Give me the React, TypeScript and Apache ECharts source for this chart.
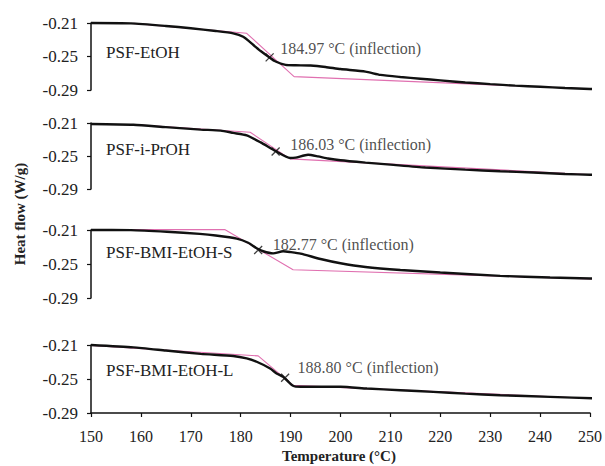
import React, { useEffect, useRef } from 'react';
import * as echarts from 'echarts';

const panelNames = ['PSF-EtOH', 'PSF-i-PrOH', 'PSF-BMI-EtOH-S', 'PSF-BMI-EtOH-L'];
const inflectionLabels = [
  '184.97 °C (inflection)',
  '186.03 °C (inflection)',
  '182.77 °C (inflection)',
  '188.80 °C (inflection)',
];

// PSF-EtOH
const etohTemp = [150, 158, 165, 170, 175, 178.5, 180.5, 182.5, 184, 185.5, 187, 189, 191, 194, 197, 200, 205, 208, 212, 216, 220, 225, 230, 235, 240, 245, 250, 253];
const etohFlow = [-0.21, -0.2104, -0.2135, -0.2163, -0.2195, -0.2223, -0.2265, -0.236, -0.2435, -0.25, -0.256, -0.26, -0.2605, -0.2608, -0.2625, -0.265, -0.268, -0.272, -0.2745, -0.2765, -0.2785, -0.281, -0.283, -0.2848, -0.2862, -0.2876, -0.2888, -0.2895];
const etohTanTemp = [158.5, 181.2, 190.7, 253];
const etohTanFlow = [-0.2104, -0.2223, -0.274, -0.2895];
const etohMark = [185.8, -0.251];

// PSF-i-PrOH
const iproTemp = [150, 158.5, 165, 172, 176, 178.5, 181.2, 184, 187, 189.9, 191, 193.5, 195.5, 197.5, 200, 205, 210, 217, 225, 232, 238.6, 245, 250, 253];
const iproFlow = [-0.2112, -0.2121, -0.215, -0.218, -0.2192, -0.222, -0.225, -0.2335, -0.244, -0.2525, -0.252, -0.2485, -0.2505, -0.253, -0.2552, -0.258, -0.2605, -0.264, -0.2665, -0.2685, -0.27, -0.2718, -0.2727, -0.2728];
const iproTanTemp = [159.8, 181.9, 189.9, 253];
const iproTanFlow = [-0.2125, -0.2212, -0.2535, -0.2735];
const iproMark = [187, -0.2445];

// PSF-BMI-EtOH-S
const bmisTemp = [150, 158, 165.2, 171.8, 175, 179.2, 181.5, 183.2, 184.5, 186.5, 188.5, 190, 192, 196, 200, 205, 212, 220, 232, 242, 250, 253];
const bmisFlow = [-0.21, -0.2101, -0.212, -0.2146, -0.2165, -0.2201, -0.225, -0.2315, -0.235, -0.2375, -0.235, -0.236, -0.2378, -0.2441, -0.2491, -0.2535, -0.2571, -0.26, -0.264, -0.2659, -0.267, -0.2675];
const bmisTanTemp = [150, 176.8, 190.5, 253];
const bmisTanFlow = [-0.2095, -0.2095, -0.2568, -0.268];
const bmisMark = [183.5, -0.2336];

// PSF-BMI-EtOH-L
const bmilTemp = [150, 158.5, 165, 172, 178.5, 181.2, 183.2, 185.9, 187.2, 188.5, 190.5, 192, 200, 205.3, 212, 218.6, 225, 232, 242, 251.4];
const bmilFlow = [-0.21, -0.2128, -0.2165, -0.2205, -0.223, -0.2258, -0.2297, -0.2376, -0.2435, -0.2475, -0.258, -0.2592, -0.2592, -0.2612, -0.2632, -0.2651, -0.2672, -0.2691, -0.271, -0.2729];
const bmilTanTemp = [150, 183.5, 190.5, 251.4];
const bmilTanFlow = [-0.2105, -0.2228, -0.2575, -0.2732];
const bmilMark = [188.9, -0.2486];

const curves = [
  [etohTemp, etohFlow], [iproTemp, iproFlow], [bmisTemp, bmisFlow], [bmilTemp, bmilFlow],
];
const tangents = [
  [etohTanTemp, etohTanFlow], [iproTanTemp, iproTanFlow], [bmisTanTemp, bmisTanFlow], [bmilTanTemp, bmilTanFlow],
];
const marks = [etohMark, iproMark, bmisMark, bmilMark];

const FONT = '"Liberation Serif", "Times New Roman", serif';
const gridTops = [23, 123, 230, 345];
const gridHeights = [67, 66, 68, 68];
const nameYs = [52, 149, 252, 370];
const labelOffsets = [[-1, -9], [3, -7], [3, -6], [1, -10]];

const zip = (xs: number[], ys: number[]) => xs.map((x, i) => [x, ys[i]]);

export default function App() {
  const ref = useRef<HTMLDivElement>(null);
  useEffect(() => {
    if (!ref.current) return;
    const chart = echarts.init(ref.current, undefined, { renderer: 'svg' });
    const grid: any[] = [];
    const xAxis: any[] = [];
    const yAxis: any[] = [];
    const series: any[] = [];
    for (let i = 0; i < 4; i++) {
      grid.push({ left: 91, right: 15, top: gridTops[i], height: gridHeights[i] });
      xAxis.push({
        gridIndex: i,
        type: 'value',
        min: 150,
        max: 250,
        interval: 10,
        show: i === 3,
        splitLine: { show: false },
        axisLine: { lineStyle: { color: '#111', width: 1.5 } },
        axisTick: { length: 4, lineStyle: { color: '#111', width: 1.2 } },
        axisLabel: { fontFamily: FONT, fontSize: 16, color: '#222', margin: 15 },
      });
      yAxis.push({
        gridIndex: i,
        type: 'value',
        min: -0.29,
        max: -0.21,
        interval: 0.04,
        splitLine: { show: false },
        axisLine: { show: true, lineStyle: { color: '#111', width: 1.5 } },
        axisTick: { show: true, length: 4, lineStyle: { color: '#111', width: 1.2 } },
        axisLabel: {
          fontFamily: FONT,
          fontSize: 17,
          color: '#222',
          margin: 13,
          formatter: (v: number) => v.toFixed(2),
        },
      });
      series.push({
        type: 'line',
        xAxisIndex: i,
        yAxisIndex: i,
        data: zip(tangents[i][0], tangents[i][1]),
        showSymbol: false,
        clip: false,
        lineStyle: { color: '#e070b0', width: 1.1 },
        z: 2,
      });
      series.push({
        type: 'line',
        xAxisIndex: i,
        yAxisIndex: i,
        data: zip(curves[i][0], curves[i][1]),
        showSymbol: false,
        clip: false,
        smooth: 0.2,
        lineStyle: { color: '#111', width: 2.4 },
        z: 3,
      });
      series.push({
        type: 'scatter',
        xAxisIndex: i,
        yAxisIndex: i,
        data: [marks[i]],
        symbol: 'path://M0,0L10,10M10,0L0,10',
        symbolSize: 8,
        clip: false,
        itemStyle: { color: 'none', borderColor: '#111', borderWidth: 1.3 },
        label: {
          show: true,
          position: 'right',
          distance: 5,
          offset: labelOffsets[i],
          formatter: inflectionLabels[i],
          fontFamily: FONT,
          fontSize: 16,
          color: '#222',
        },
        z: 4,
      });
    }
    const graphic: any[] = panelNames.map((name, i) => ({
      type: 'text',
      x: 106,
      y: nameYs[i],
      style: {
        text: name,
        font: `17px ${FONT}`,
        fill: '#222',
        textAlign: 'left',
        textVerticalAlign: 'middle',
      },
    }));
    graphic.push({
      type: 'text',
      x: 20,
      y: 214,
      rotation: Math.PI / 2,
      style: {
        text: 'Heat flow (W/g)',
        font: `bold 15px ${FONT}`,
        fill: '#222',
        textAlign: 'center',
        textVerticalAlign: 'middle',
      },
    });
    graphic.push({
      type: 'text',
      x: 339,
      y: 456,
      style: {
        text: 'Temperature (°C)',
        font: `bold 15px ${FONT}`,
        fill: '#222',
        textAlign: 'center',
        textVerticalAlign: 'middle',
      },
    });
    chart.setOption({
      animation: false,
      backgroundColor: '#fff',
      grid,
      xAxis,
      yAxis,
      series,
      graphic,
    });
    return () => chart.dispose();
  }, []);
  return (
    <div
      ref={ref}
      style={{ position: 'absolute', left: 0, top: 0, width: 605, height: 466 }}
    />
  );
}
